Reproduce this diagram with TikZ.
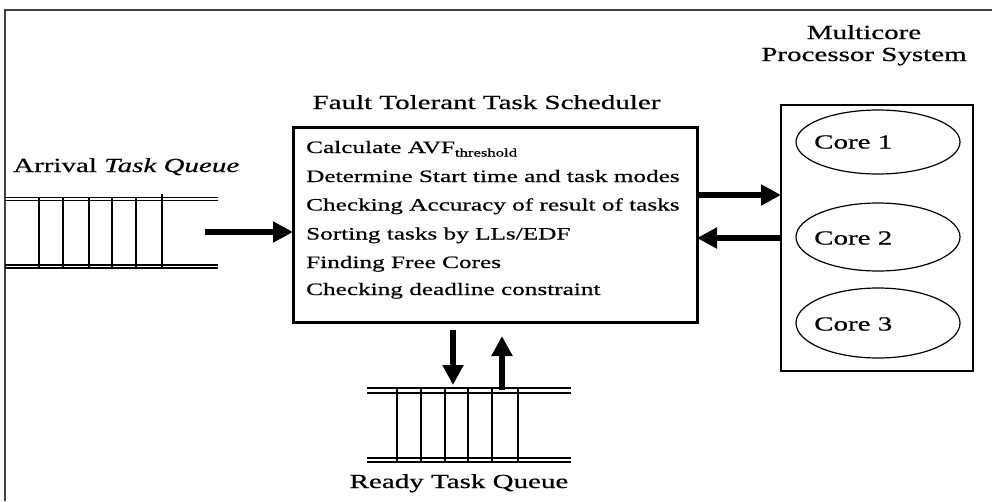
\documentclass[tikz,border=0pt]{standalone}
\usepackage{fontspec}
\setmainfont{Liberation Serif}[FakeStretch=1.45,FakeBold=0.6]
\usetikzlibrary{arrows.meta,shapes.geometric}
\newcommand{\subtxt}[1]{\raisebox{-3.5pt}{\fontsize{11.5}{12}\selectfont #1}}
\begin{document}
\begin{tikzpicture}[x=1pt,y=-1pt,
  lbl/.style={font=\fontsize{20}{22}\selectfont, inner sep=0pt},
  item/.style={font=\fontsize{17.4}{20}\selectfont, anchor=base west, inner sep=0pt},
  core/.style={draw, line width=1.2pt, ellipse, minimum width=164pt, minimum height=64pt},
  qline/.style={line width=1.1pt},
  bigarrow/.style={line width=6pt, -{Triangle[length=20pt,width=20pt]}},
]
\useasboundingbox (0,0) rectangle (992,501);
% outer frame
\draw[line width=2pt, black!75] (5,501) -- (5,10) -- (992,10);

% arrival queue
\node[lbl, anchor=base west] (arrlbl) at (13,172) {Arrival \textit{Task Queue}};
\foreach \yy in {197.5,200.5,265,268} \draw[qline] (5,\yy) -- (218,\yy);
\foreach \xx in {39,63,89,112,136} \draw[qline] (\xx,197.5) -- (\xx,268);
\draw[qline] (162,194) -- (162,268);
\coordinate (arrout) at (205,232);

% scheduler
\node[lbl, anchor=base] (schedlbl) at (486.5,109) {Fault Tolerant Task Scheduler};
\draw[line width=3pt] (293,127) rectangle (697,322);
\coordinate (schedW) at (293,232);
\node[item] (s1) at (306,153) {Calculate AVF\subtxt{threshold}};
\node[item] (s2) at (306,182) {Determine Start time and task modes};
\node[item] (s3) at (306,210.5) {Checking Accuracy of result of tasks};
\node[item] (s4) at (306,239.5) {Sorting tasks by LLs/EDF};
\node[item] (s5) at (306,268) {Finding Free Cores};
\node[item] (s6) at (306,295) {Checking deadline constraint};

% multicore system
\node[lbl, align=center, anchor=base] (mclbl) at (864,61) {Multicore\\Processor System};
\draw[line width=1.5pt] (781,105) rectangle (973,371);
\node[core] (c1) at (878,142) {};
\node[core, minimum height=68pt] (c2) at (878,237) {};
\node[core, minimum height=70pt] (c3) at (878,323) {};
\node[lbl, anchor=west] at (814,142) {Core 1};
\node[lbl, anchor=west] at (814,238) {Core 2};
\node[lbl, anchor=west] at (814,324) {Core 3};

% arrows between scheduler and cores
\coordinate (sE1) at (697,195);
\coordinate (mW1) at (781,195);
\coordinate (sE2) at (697,238);
\coordinate (mW2) at (781,238);
\draw[bigarrow] (arrout) -- (schedW);
\draw[bigarrow] (sE1) -- (mW1);
\draw[bigarrow] (mW2) -- (sE2);

% ready queue
\foreach \yy in {388,393,458,462} \draw[qline] (367,\yy) -- (571,\yy);
\foreach \xx in {397,421,445,468,492,518} \draw[qline] (\xx,388) -- (\xx,462);
\node[lbl, anchor=base] (rdylbl) at (459,488) {Ready Task Queue};
\coordinate (dn1) at (453,330);
\coordinate (dn2) at (453,385);
\coordinate (up1) at (502,390);
\coordinate (up2) at (502,336);
\draw[bigarrow] (dn1) -- (dn2);
\draw[bigarrow] (up1) -- (up2);
\end{tikzpicture}
\end{document}
